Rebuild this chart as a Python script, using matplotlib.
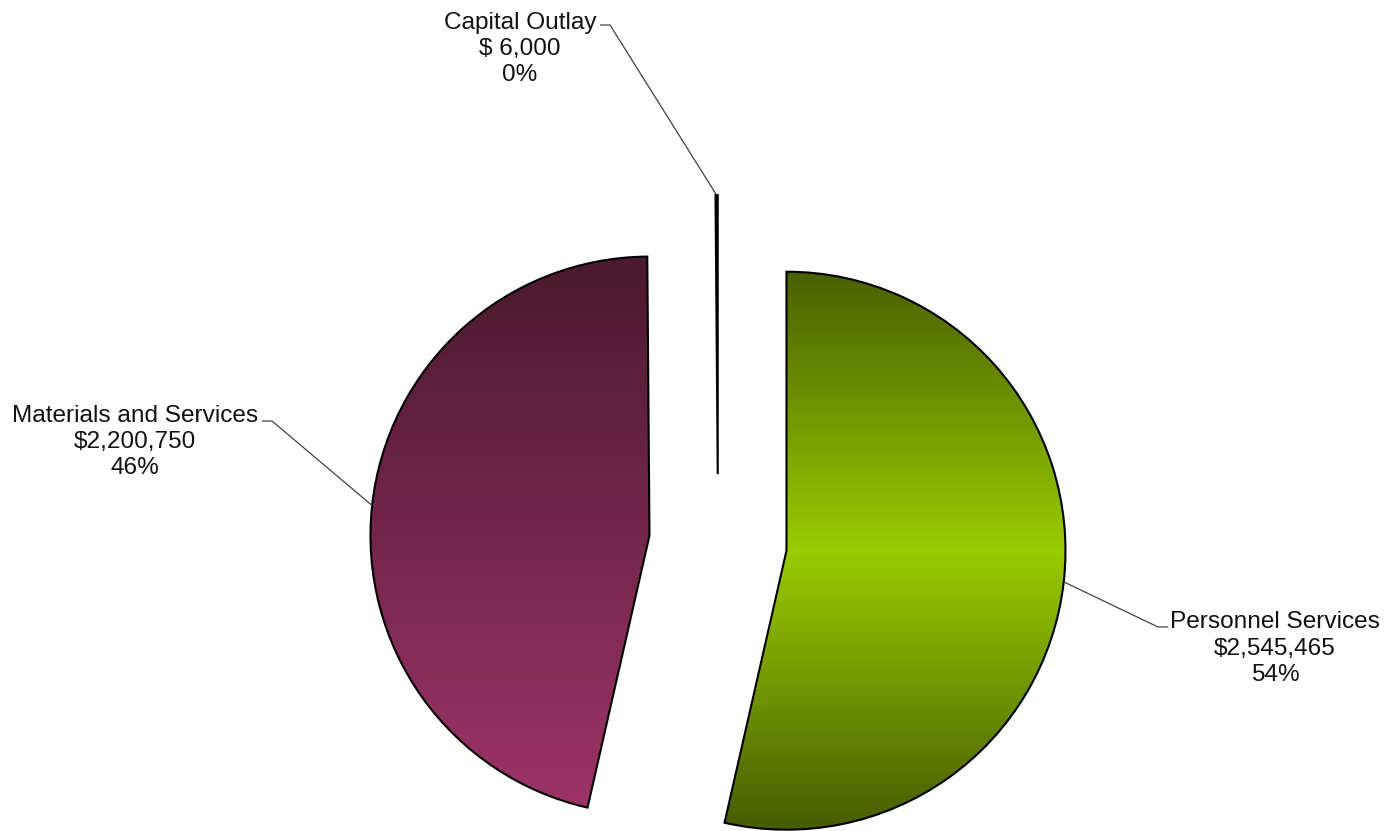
import numpy as np
import matplotlib
matplotlib.use("Agg")
import matplotlib.pyplot as plt
from matplotlib.colors import LinearSegmentedColormap

# ---- data ----
categories = ["Personnel Services", "Materials and Services", "Capital Outlay"]
amounts = [2545465, 2200750, 6000]
amount_labels = ["$2,545,465", "$2,200,750", "$ 6,000"]
pct_labels = ["54%", "46%", "0%"]

# ---- styling / layout ----
grad_colors = [
    ["#4a6000", "#99cc00", "#485c00"],   # Personnel: dark-bright-dark
    ["#4a1a2e", "#9e3468"],              # Materials: dark top -> bright bottom
    ["#111111", "#111111"],              # Capital Outlay
]
W, H = 1390, 831
R_PX = 279.0
CX, CY = 718.0, 543.0          # pie centre in pixels (from top-left)
EXPLODE = 0.247

def px(x, y):
    return ((x - CX) / R_PX, (CY - y) / R_PX)

# label anchor (last-line baseline, pixel coords), elbow point, elbow end
label_pos = [(1275, 681), (135, 474), (520, 81)]
elbow = [((1158, 627), (1168, 627)), ((272, 421), (262, 421)), ((610, 25), (600, 25))]

plt.rcParams['font.family'] = ['Liberation Sans', 'DejaVu Sans']

fig = plt.figure(figsize=(W / 100, H / 100), dpi=100)
ax = fig.add_axes([0, 0, 1, 1])

wedges, _ = ax.pie(amounts, startangle=90, counterclock=False,
                   explode=[EXPLODE] * len(amounts), radius=1.0,
                   wedgeprops=dict(edgecolor="black", linewidth=1.5),
                   frame=False)

for w, cols in zip(wedges, grad_colors):
    cx, cy = w.center
    cmap = LinearSegmentedColormap.from_list("g", cols)
    grad = np.linspace(0, 1, 256).reshape(-1, 1)
    im = ax.imshow(grad, cmap=cmap, extent=[cx - 1, cx + 1, cy - 1, cy + 1],
                   origin="upper", aspect="auto", zorder=0.5,
                   interpolation="bilinear")
    im.set_clip_path(w)
    w.set_facecolor("none")
    w.set_zorder(1)

# leader lines and labels
for w, cat, amt, pct, lp, (e1, e2) in zip(wedges, categories, amount_labels,
                                           pct_labels, label_pos, elbow):
    cx, cy = w.center
    tm = np.deg2rad(0.5 * (w.theta1 + w.theta2))
    ax0 = cx + np.cos(tm) * w.r
    ay0 = cy + np.sin(tm) * w.r
    p1 = px(*e1)
    p2 = px(*e2)
    ax.plot([ax0, p1[0], p2[0]], [ay0, p1[1], p2[1]], color="#404040",
            lw=0.9, zorder=2, solid_capstyle="butt")
    tx, ty = px(*lp)
    ax.text(tx, ty, f"{cat}\n{amt}\n{pct}", ha="center", va="baseline",
            multialignment="center", fontsize=17.6, color="#111111",
            linespacing=1.25, zorder=3)

ax.set_xlim(px(0, 0)[0], px(W, 0)[0])
ax.set_ylim(px(0, H)[1], px(0, 0)[1])
ax.set_aspect("auto")
ax.set_axis_off()

fig.savefig("out.png", dpi=100, facecolor="white")
